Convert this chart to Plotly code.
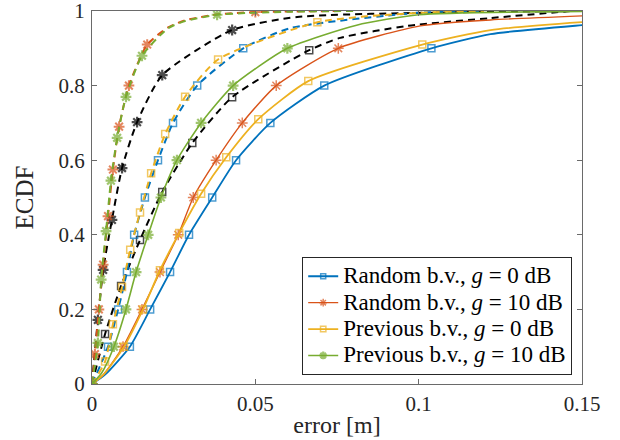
import plotly.graph_objects as go

# ---------------- data (error [m] vs ECDF) ----------------
# Solid curves (shown in legend)
RB0_X = [0, 0.004, 0.0116, 0.0178, 0.0239, 0.0297, 0.0368, 0.0441, 0.0546, 0.0711, 0.1039, 0.122, 0.150, 0.17]
RB0_Y = [0, 0.025, 0.1, 0.2, 0.3, 0.4, 0.5, 0.6, 0.7, 0.8, 0.9, 0.938, 0.962, 0.975]
RB0_M = [1, 0, 1, 1, 1, 1, 1, 1, 1, 1, 1, 0, 0, 0]

RB10_X = [0, 0.0035, 0.0095, 0.0153, 0.0208, 0.0264, 0.031, 0.038, 0.046, 0.0564, 0.0754, 0.1005, 0.122, 0.150]
RB10_Y = [0, 0.025, 0.1, 0.2, 0.3, 0.4, 0.5, 0.6, 0.7, 0.8, 0.9, 0.96, 0.976, 0.987]
RB10_M = [1, 0, 1, 1, 1, 1, 1, 1, 1, 1, 1, 0, 0, 0]

PB0_X = [0, 0.0035, 0.0098, 0.0156, 0.0208, 0.0267, 0.0334, 0.0411, 0.0509, 0.0662, 0.1011, 0.122, 0.150]
PB0_Y = [0, 0.025, 0.1, 0.2, 0.305, 0.405, 0.51, 0.608, 0.71, 0.812, 0.91, 0.949, 0.97]
PB0_M = [1, 0, 1, 1, 1, 1, 1, 1, 1, 1, 1, 0, 0]

PB10_X = [0, 0.003, 0.0067, 0.0104, 0.0135, 0.0172, 0.0211, 0.026, 0.0334, 0.0432, 0.0598, 0.081, 0.1, 0.15]
PB10_Y = [0, 0.03, 0.1, 0.2, 0.3, 0.4, 0.5, 0.6, 0.7, 0.8, 0.9, 0.962, 0.99, 0.999]
PB10_M = [1, 0, 1, 1, 1, 1, 1, 1, 1, 1, 1, 0, 0, 0]

# Dashed curves (not in legend)
D_RB0_X = [0, 0.0049, 0.008, 0.0107, 0.0129, 0.0162, 0.0202, 0.0248, 0.0322, 0.0463, 0.0607, 0.0996, 0.12]
D_RB0_Y = [0, 0.1, 0.2, 0.3, 0.4, 0.5, 0.6, 0.7, 0.8, 0.9, 0.954, 0.995, 1.0]
D_RB0_M = [1, 1, 1, 1, 1, 1, 1, 1, 1, 1, 0, 0, 0]

D_PB0_X = [0, 0.004, 0.0064, 0.0092, 0.0117, 0.0147, 0.0181, 0.0224, 0.0285, 0.0386, 0.069, 0.0996, 0.12]
D_PB0_Y = [0, 0.06, 0.16, 0.26, 0.36, 0.46, 0.565, 0.67, 0.77, 0.87, 0.97, 0.995, 1.0]
D_PB0_M = [1, 1, 1, 1, 1, 1, 1, 1, 1, 1, 1, 0, 0]

D_RB10_X = [0, 0.0009, 0.0021, 0.0034, 0.0049, 0.0064, 0.0083, 0.0113, 0.0169, 0.0233, 0.0285, 0.0383, 0.05, 0.075]
D_RB10_Y = [0, 0.08, 0.2, 0.32, 0.45, 0.575, 0.69, 0.80, 0.91, 0.956, 0.975, 0.991, 0.997, 1.0]
D_RB10_M = [1, 1, 1, 1, 1, 1, 1, 1, 1, 0, 0, 0, 1, 0]

D_PB10_X = [0, 0.0018, 0.0028, 0.0043, 0.0058, 0.0077, 0.0104, 0.0153, 0.0233, 0.0285, 0.0383, 0.06, 0.08]
D_PB10_Y = [0, 0.11, 0.28, 0.41, 0.545, 0.66, 0.77, 0.88, 0.954, 0.973, 0.99, 0.998, 1.0]
D_PB10_M = [1, 1, 1, 1, 1, 1, 1, 1, 0, 0, 1, 0, 0]

K_SQ_X = [0, 0.004, 0.0089, 0.0147, 0.0215, 0.0307, 0.0429, 0.0665, 0.076, 0.0965, 0.122, 0.1465]
K_SQ_Y = [0, 0.134, 0.263, 0.386, 0.515, 0.646, 0.769, 0.895, 0.928, 0.96, 0.981, 1.0]
K_SQ_M = [1, 1, 1, 1, 1, 1, 1, 1, 0, 0, 0, 0]

K_AS_X = [0, 0.0018, 0.0034, 0.0061, 0.0092, 0.0138, 0.0215, 0.0429, 0.0628, 0.107, 0.15]
K_AS_Y = [0, 0.172, 0.306, 0.44, 0.579, 0.702, 0.828, 0.949, 0.984, 0.996, 1.0]
K_AS_M = [1, 1, 1, 1, 1, 1, 1, 1, 0, 0, 0]

LABELS = ["Random b.v., <i>g</i> = 0 dB",
          "Random b.v., <i>g</i> = 10 dB",
          "Previous b.v., <i>g</i> = 0 dB",
          "Previous b.v., <i>g</i> = 10 dB"]
X_TICKS = [0, 0.05, 0.1, 0.15]
X_TICK_TEXT = ["0", "0.05", "0.1", "0.15"]
Y_TICKS = [0, 0.2, 0.4, 0.6, 0.8, 1]
Y_TICK_TEXT = ["0", "0.2", "0.4", "0.6", "0.8", "1"]

BLUE, ORANGE, YELLOW, GREEN, BLACK = "#0072BD", "#D95319", "#EDB120", "#77AC30", "#000000"
FONT = "Liberation Serif"

fig = go.Figure()


def add(x, y, m, color, symbol, dash, name=None, width=1.6, msize=7, mlw=1.5):
    sizes = [msize if f else 0 for f in m]
    fig.add_trace(go.Scatter(
        x=x, y=y, mode="lines+markers",
        name=("<span style='font-size:23px'>" + name + "</span>") if name else "",
        showlegend=name is not None,
        line=dict(color=color, width=width, dash=dash, shape="spline", smoothing=0.6),
        marker=dict(symbol=symbol, size=sizes, color=color,
                    line=dict(color=color, width=mlw)),
        hoverinfo="skip",
    ))


DASH = "7px,5px"
# dashed (drawn first)
add(K_SQ_X, K_SQ_Y, K_SQ_M, BLACK, "square-open", DASH, width=2)
add(K_AS_X, K_AS_Y, K_AS_M, BLACK, "asterisk-open", DASH, width=2, msize=9, mlw=2.2)
add(D_RB0_X, D_RB0_Y, D_RB0_M, BLUE, "square-open", DASH, width=2)
add(D_PB0_X, D_PB0_Y, D_PB0_M, YELLOW, "square-open", DASH, width=2)
add(D_RB10_X, D_RB10_Y, D_RB10_M, ORANGE, "asterisk-open", DASH, width=2, msize=9, mlw=2)
add(D_PB10_X, D_PB10_Y, D_PB10_M, GREEN, "asterisk-open", DASH, width=2, msize=9, mlw=2.2)
# solid (legend)
add(RB0_X, RB0_Y, RB0_M, BLUE, "square-open", "solid", name=LABELS[0], width=1.8)
add(RB10_X, RB10_Y, RB10_M, ORANGE, "asterisk-open", "solid", name=LABELS[1], width=1.4, msize=9)
add(PB0_X, PB0_Y, PB0_M, YELLOW, "square-open", "solid", name=LABELS[2], width=1.8)
add(PB10_X, PB10_Y, PB10_M, GREEN, "asterisk-open", "solid", name=LABELS[3], width=1.6, msize=9, mlw=2.2)

axis_common = dict(showgrid=False, zeroline=False, showline=True, linecolor="#6a6a6a",
                   linewidth=1, mirror="ticks", ticks="inside", ticklen=5, automargin=False,
                   ticklabeloverflow="allow",
                   tickcolor="#6a6a6a", tickfont=dict(family=FONT, size=21, color="#262626"))

fig.update_layout(
    width=620, height=440,
    margin=dict(l=92, r=38, t=11, b=56),
    paper_bgcolor="white", plot_bgcolor="white",
    font=dict(family=FONT, size=21, color="#262626"),
    xaxis=dict(range=[0, 0.15], tickvals=X_TICKS, ticktext=X_TICK_TEXT,
               ticklabelstandoff=1,
               title=dict(text="error [m]", font=dict(family=FONT, size=24), standoff=0),
               **axis_common),
    yaxis=dict(range=[0, 1], tickvals=Y_TICKS, ticktext=Y_TICK_TEXT,
               ticklabelstandoff=2,
               title=dict(text="ECDF", font=dict(family=FONT, size=25), standoff=17),
               **axis_common),
    legend=dict(x=0.98, y=0.024, xanchor="right", yanchor="bottom",
                bgcolor="white", bordercolor="#262626", borderwidth=1,
                font=dict(family=FONT, size=18, color="#000000"),
                tracegroupgap=0, itemsizing="trace"),
    showlegend=True,
)

fig.write_html("out.html")
